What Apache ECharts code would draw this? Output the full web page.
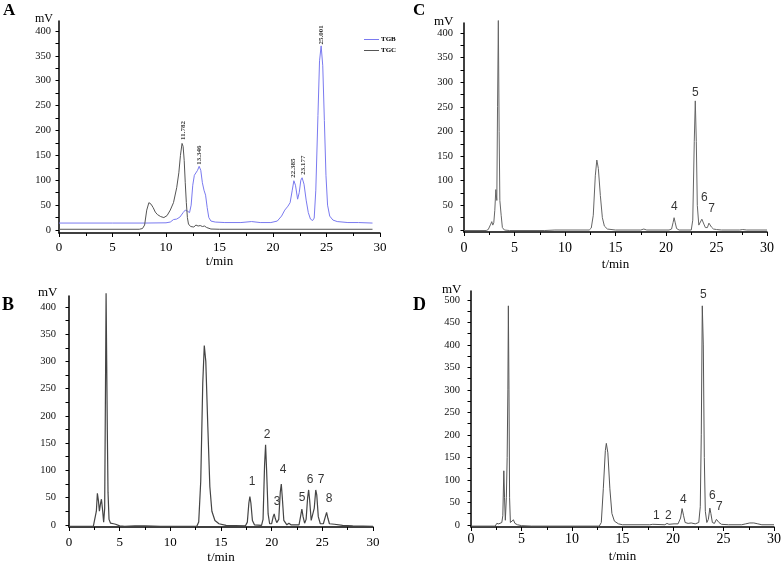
<!DOCTYPE html>
<html>
<head>
<meta charset="utf-8">
<script src="https://cdn.jsdelivr.net/npm/echarts@6/dist/echarts.min.js"></script>
<style>
  body { margin: 0; background: #fff; }
  #chart { width: 784px; height: 565px; }
</style>
</head>
<body>
<div id="chart"></div>
<script>
// 色谱数据，每个点为 [t/min, mV]

// A: TGB / TGC
var tgb = [[0,14],[5,14],[8,14],[10,14.5],[10.4,16],[10.7,21],[11.0,22],[11.3,26],[11.6,35],[11.8,40],[12.0,38],[12.2,35],
  [12.35,50],[12.5,90],[12.65,110],[12.8,108],[12.95,120],[13.1,128],[13.25,120],[13.4,95],[13.55,80],[13.7,70],[13.85,45],
  [14.0,25],[14.2,18],[14.6,16],[15.5,15],[17,15],[18,17],[18.8,15],[19.8,15],[20.4,18],[20.8,28],[21.1,40],[21.4,48],
  [21.6,55],[21.8,80],[21.95,99],[22.1,90],[22.3,62],[22.45,75],[22.6,100],[22.72,105],[22.9,92],[23.1,60],[23.3,35],
  [23.5,22],[23.7,19],[23.85,24],[24.0,80],[24.2,230],[24.35,340],[24.5,370],[24.65,330],[24.8,220],[24.95,110],[25.1,50],
  [25.3,28],[25.6,20],[26,17],[27,15],[28,15],[29.3,14]]
var tgc = [[0,1.5],[7.5,1.5],[7.8,3],[8.0,10],[8.2,40],[8.4,55],[8.6,52],[8.8,45],[9.0,36],[9.2,31],[9.5,27],[9.8,25],
  [10.1,29],[10.4,40],[10.7,55],[11.0,85],[11.2,115],[11.35,150],[11.5,174],[11.6,168],[11.7,140],[11.8,95],[11.9,55],
  [12.0,25],[12.1,12],[12.3,7],[12.6,6],[12.8,10],[13.0,8],[13.2,9],[13.4,7],[13.6,8],[13.8,5],[14.2,2],[15,1.5],[29.3,1.5]]
// A 峰标注 [t, mV, 文本]
var peaksA = [[11.59,181,'11.782'],[13.08,131,'13.346'],[21.87,105,'22.385'],[22.8,111,'23.177'],[24.49,373,'25.001']]

// B
var traceB = [[0,-3],[2.4,-3],[2.55,0],[2.7,25],[2.8,58],[2.9,45],[3.0,25],[3.1,38],[3.2,47],[3.3,30],[3.42,5],[3.52,30],
  [3.6,250],[3.66,425],[3.72,300],[3.78,175],[3.85,60],[3.95,10],[4.1,3],[4.4,2],[4.6,1],[5.0,-2],[5.5,-3],[6.5,-2],
  [7.5,-2],[9,-3],[12.6,-3],[12.8,5],[13.0,80],[13.2,260],[13.35,329],[13.5,300],[13.7,180],[13.9,70],[14.1,25],[14.4,8],
  [14.8,2],[15.5,-1],[17.4,-2],[17.6,5],[17.75,40],[17.85,52],[17.95,40],[18.1,8],[18.3,0],[19.0,-1],[19.15,10],[19.3,110],
  [19.4,147],[19.5,100],[19.65,20],[19.8,2],[20.0,2],[20.15,15],[20.25,20],[20.35,12],[20.5,4],[20.7,10],[20.85,60],
  [20.95,75],[21.05,50],[21.2,8],[21.5,0],[21.7,3],[21.9,0],[22.7,0],[22.85,15],[22.98,29],[23.1,15],[23.25,3],[23.4,10],
  [23.55,50],[23.65,64],[23.75,45],[23.9,8],[24.05,5],[24.2,30],[24.35,64],[24.45,55],[24.6,15],[24.8,2],[25.1,2],
  [25.3,15],[25.42,23],[25.55,12],[25.7,2],[26.2,1],[27,-1],[28,-2],[30,-3]]
var peaksB = [[18.06,79,'1'],[19.54,165,'2'],[20.53,42,'3'],[21.12,101,'4'],[23.0,50,'5'],[23.78,83,'6'],[24.87,83,'7'],[25.66,48,'8']]

// C
var traceC = [[0,-1],[2.2,-1],[2.4,1],[2.55,5],[2.65,12],[2.75,17],[2.85,10],[2.95,15],[3.05,40],[3.15,82],[3.25,60],
  [3.32,250],[3.4,425],[3.48,200],[3.55,60],[3.6,62],[3.68,30],[3.8,5],[4.0,0],[4.5,-1],[8,-1],[9,0],[12.4,0],[12.6,4],
  [12.8,30],[13.0,110],[13.15,142],[13.3,125],[13.5,70],[13.7,25],[13.9,8],[14.2,2],[15,0],[17.5,0],[17.8,2],[18.1,0],
  [20,0],[20.1,1],[20.3,0],[20.55,2],[20.7,15],[20.8,25],[20.9,16],[21.05,3],[21.3,0],[22.5,0],[22.65,20],[22.8,180],
  [22.9,262],[23.0,180],[23.1,50],[23.25,10],[23.4,8],[23.55,22],[23.62,26],[23.75,12],[23.9,5],[24.1,5],[24.25,14],
  [24.35,15],[24.5,6],[24.7,2],[25,1],[25.5,0],[27.3,0],[27.6,1],[28,0],[30,0]]
var peaksC = [[20.82,47,'4'],[22.9,279,'5'],[23.79,66,'6'],[24.52,44,'7']]

// D
var traceD = [[0,-3],[2.4,-3],[2.55,3],[2.65,5],[2.75,2],[2.9,3],[3.05,5],[3.15,20],[3.25,120],[3.32,60],[3.4,10],
  [3.5,60],[3.58,150],[3.65,300],[3.7,487],[3.76,300],[3.82,60],[3.9,5],[4.05,3],[4.2,11],[4.35,3],[4.6,0],[5,-2],[6,-3],
  [12.7,-3],[12.9,5],[13.1,80],[13.3,165],[13.4,181],[13.55,160],[13.75,80],[13.95,25],[14.2,8],[14.6,2],[15,0],[17.7,0],
  [17.85,3],[18.0,1],[19.2,0],[19.4,3],[19.6,1],[20.1,2],[20.5,2],[20.75,15],[20.9,36],[21.05,20],[21.2,5],[21.5,3],
  [21.8,4],[22.2,2],[22.55,5],[22.7,40],[22.8,200],[22.9,487],[23.0,400],[23.1,150],[23.2,30],[23.35,5],[23.5,12],
  [23.65,37],[23.75,25],[23.9,5],[24.1,3],[24.3,12],[24.4,15],[24.55,5],[24.8,1],[25.5,0],[26.8,0],[27.2,2],[27.6,4],
  [28.0,4],[28.4,2],[28.8,0],[30,0]]
var peaksD = [[18.36,20,'1'],[19.55,20,'2'],[21.03,56,'4'],[23.0,511,'5'],[23.89,64,'6'],[24.58,40,'7']]

// 刻度（标签每 50，刻度线每 25）
var yLabels400 = [0,50,100,150,200,250,300,350,400]
var yLabels500 = [0,50,100,150,200,250,300,350,400,450,500]
var yTicks400 = [0,25,50,75,100,125,150,175,200,225,250,275,300,325,350,375,400]
var yTicks500 = [0,25,50,75,100,125,150,175,200,225,250,275,300,325,350,375,400,425,450,475,500]

var serif = 'Liberation Serif'
var sans = 'Liberation Sans'

function xAxisOf(gi, fontSize, margin, nameGap) {
  return {
    type: 'value', gridIndex: gi, min: 0, max: 30, interval: 5,
    name: 't/min', nameLocation: 'middle', nameGap: nameGap,
    nameTextStyle: { fontFamily: serif, fontSize: 13, color: '#000' },
    axisLine: { onZero: false, lineStyle: { color: '#000', width: 1.5 } },
    axisTick: { length: 4, lineStyle: { color: '#000' } },
    minorTick: { show: true, splitNumber: 2, length: 3, lineStyle: { color: '#000' } },
    axisLabel: { fontFamily: serif, fontSize: fontSize, color: '#000', margin: margin },
    splitLine: { show: false }
  }
}

function yAxisOf(gi, min, max, labels, ticks, margin) {
  return {
    type: 'value', gridIndex: gi, min: min, max: max,
    axisLine: { show: true, onZero: false, lineStyle: { color: '#000', width: 1.5 } },
    axisTick: { show: true, length: 3.5, customValues: ticks, lineStyle: { color: '#000' } },
    axisLabel: { customValues: labels, fontFamily: serif, fontSize: 10.5, color: '#111', margin: margin },
    splitLine: { show: false }
  }
}

function trace(idx, name, data, color, width) {
  return {
    type: 'line', name: name, xAxisIndex: idx, yAxisIndex: idx, data: data,
    showSymbol: false, symbol: 'none', clip: false, silent: true,
    lineStyle: { color: color, width: width }, itemStyle: { color: color }
  }
}

// 峰编号文字
function peakLabels(idx, pts, label) {
  return {
    type: 'scatter', xAxisIndex: idx, yAxisIndex: idx, symbolSize: 1, silent: true,
    itemStyle: { color: 'transparent' },
    data: pts.map(function (p) { return { value: [p[0], p[1]], name: p[2] } }),
    label: Object.assign({ show: true, position: 'inside', formatter: '{b}', color: '#000' }, label)
  }
}

var chart = echarts.init(document.getElementById('chart'))

chart.setOption({
  animation: false,
  backgroundColor: '#fff',
  grid: [
    { left: 59, top: 21, width: 321, height: 212 },
    { left: 69, top: 296, width: 304, height: 231 },
    { left: 464, top: 23, width: 303, height: 209 },
    { left: 471, top: 291, width: 304, height: 236 }
  ],
  xAxis: [
    xAxisOf(0, 13, 8, 22),
    xAxisOf(1, 13, 9, 24),
    xAxisOf(2, 14, 9, 26),
    xAxisOf(3, 14, 5, 23)
  ],
  yAxis: [
    yAxisOf(0, -6, 420, yLabels400, yTicks400, 8),
    yAxisOf(1, -4, 420, yLabels400, yTicks400, 13),
    yAxisOf(2, -4, 420, yLabels400, yTicks400, 11),
    yAxisOf(3, -5, 520, yLabels500, yTicks500, 11)
  ],
  legend: {
    data: ['TGB', 'TGC'], orient: 'vertical', left: 364, top: 36, padding: 0,
    itemWidth: 15, itemHeight: 1, itemGap: 4, icon: 'rect',
    textStyle: { fontFamily: serif, fontSize: 7, fontWeight: 'bold', color: '#000', padding: [0, 0, 0, -3] }
  },
  graphic: [
    { type: 'text', left: 3, top: 2, style: { text: 'A', font: 'bold 17px "Liberation Serif"', fill: '#000' } },
    { type: 'text', left: 413, top: 2, style: { text: 'C', font: 'bold 17px "Liberation Serif"', fill: '#000' } },
    { type: 'text', left: 2, top: 296, style: { text: 'B', font: 'bold 18px "Liberation Serif"', fill: '#000' } },
    { type: 'text', left: 413, top: 296, style: { text: 'D', font: 'bold 18px "Liberation Serif"', fill: '#000' } },
    { type: 'text', left: 35, top: 13, style: { text: 'mV', font: '12px "Liberation Serif"', fill: '#000' } },
    { type: 'text', left: 434, top: 15, style: { text: 'mV', font: '13px "Liberation Serif"', fill: '#000' } },
    { type: 'text', left: 38, top: 286, style: { text: 'mV', font: '13px "Liberation Serif"', fill: '#000' } },
    { type: 'text', left: 442, top: 283, style: { text: 'mV', font: '13px "Liberation Serif"', fill: '#000' } }
  ],
  series: [
    trace(0, 'TGB', tgb, '#7a7af0', 1),
    trace(0, 'TGC', tgc, '#555', 1),
    peakLabels(0, peaksA, { fontFamily: serif, fontSize: 7, fontWeight: 'bold', rotate: 90, align: 'left', verticalAlign: 'middle' }),
    trace(1, 'B', traceB, '#444', 1.2),
    peakLabels(1, peaksB, { fontFamily: sans, fontSize: 12 }),
    trace(2, 'C', traceC, '#666', 1),
    peakLabels(2, peaksC, { fontFamily: sans, fontSize: 12 }),
    trace(3, 'D', traceD, '#555', 1),
    peakLabels(3, peaksD, { fontFamily: sans, fontSize: 12 })
  ]
})
</script>
</body>
</html>
